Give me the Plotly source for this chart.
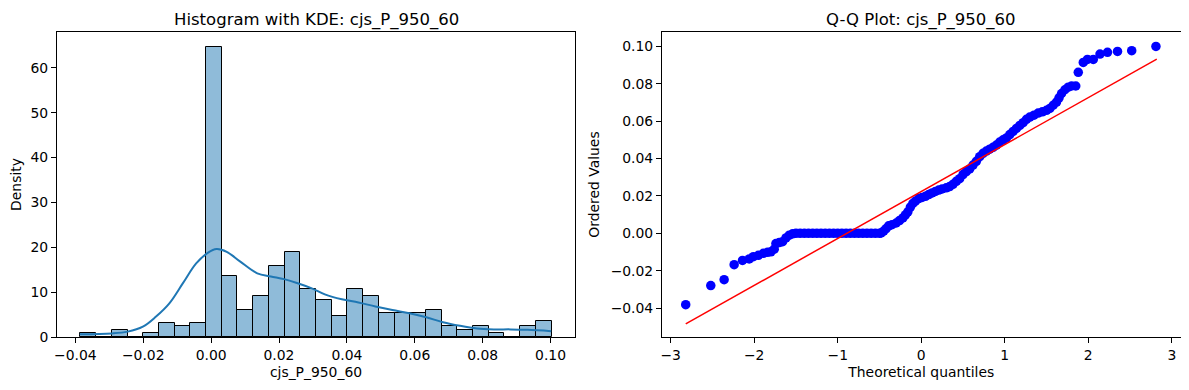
import plotly.graph_objects as go

# ---------------- data ----------------
hist_min = -0.0385
hist_max = 0.1003
n_bins = 30
hist_density = [0.82, 0.0, 1.56, 0.0, 0.82, 3.05, 2.38, 3.05, 64.6, 13.5,
                5.95, 9.07, 15.76, 18.9, 10.6, 8.18, 4.68, 10.6, 9.07, 5.28,
                5.28, 5.28, 5.95, 2.38, 1.49, 2.38, 0.82, 0.0, 2.38, 3.64]

kde_x = [-0.0387, -0.0292, -0.0246, -0.0201, -0.0163, -0.0123, -0.0083, -0.0044,
         -0.0009, 0.0016, 0.0046, 0.0086, 0.0136, 0.0176, 0.0215, 0.0255, 0.0295,
         0.0335, 0.0385, 0.0434, 0.0484, 0.0534, 0.0584, 0.0634, 0.0683, 0.0733,
         0.0783, 0.0833, 0.0882, 0.0932, 0.1002]
kde_y = [0.6, 0.8, 1.2, 2.3, 4.5, 7.5, 12.0, 16.4, 18.8, 19.6, 19.0, 16.8, 14.2,
         13.5, 12.9, 12.0, 10.9, 9.5, 8.4, 7.7, 6.8, 6.0, 5.3, 4.4, 3.3, 2.5,
         1.9, 1.7, 1.7, 1.6, 1.3]

qq_theoretical = [
    -2.82, -2.52, -2.36, -2.24, -2.14, -2.06, -2.01, -1.95, -1.89, -1.84, -1.80,
    -1.76, -1.74, -1.70, -1.66, -1.62, -1.58, -1.54, -1.50,
    -1.45, -1.40, -1.35, -1.30, -1.25, -1.20, -1.15, -1.10, -1.05, -1.00,
    -0.95, -0.90, -0.85, -0.80, -0.75, -0.70, -0.65, -0.60, -0.55, -0.50,
    -0.48, -0.45, -0.42, -0.39, -0.35, -0.30, -0.26, -0.22, -0.19, -0.16,
    -0.13, -0.10, -0.07, -0.03, 0.01, 0.05, 0.09, 0.13, 0.17, 0.21, 0.25,
    0.30, 0.34, 0.38, 0.42, 0.46, 0.50, 0.54, 0.58, 0.62, 0.66, 0.70, 0.74,
    0.78, 0.82, 0.86, 0.90, 0.94, 0.98, 1.02, 1.06, 1.10, 1.14, 1.18, 1.22,
    1.26, 1.30, 1.35, 1.40, 1.45, 1.50, 1.54, 1.58, 1.62, 1.65, 1.68, 1.72,
    1.76, 1.80, 1.85, 1.88, 1.94, 1.99, 2.06, 2.14, 2.23, 2.35, 2.52, 2.81]
qq_ordered = [
    -0.0382, -0.0280, -0.0248, -0.0168, -0.0145, -0.0137, -0.0125, -0.0118,
    -0.0107, -0.0102, -0.0099, -0.0085, -0.0055, -0.0050, -0.0045, -0.0025,
    -0.0010, -0.0003, 0.0,
    0.0, 0.0, 0.0, 0.0, 0.0, 0.0, 0.0, 0.0, 0.0, 0.0,
    0.0, 0.0, 0.0, 0.0, 0.0, 0.0, 0.0, 0.0, 0.0, 0.0,
    0.0002, 0.0012, 0.0025, 0.0040, 0.0046, 0.0055, 0.0068, 0.0082, 0.0098,
    0.0115, 0.0140, 0.0160, 0.0172, 0.0186, 0.0192, 0.0198, 0.0207, 0.0216,
    0.0224, 0.0231, 0.0237, 0.0243, 0.0250, 0.0262, 0.0278, 0.0292, 0.0314,
    0.0330, 0.0344, 0.0365, 0.0385, 0.0410, 0.0428, 0.0440, 0.0450, 0.0460,
    0.0472, 0.0488, 0.0500, 0.0510, 0.0528, 0.0545, 0.0561, 0.0577, 0.0592,
    0.0610, 0.0622, 0.0632, 0.0643, 0.0650, 0.0658, 0.0668, 0.0685, 0.0702,
    0.0725, 0.0748, 0.0768, 0.0782, 0.0788, 0.0788, 0.0861, 0.0914, 0.0930,
    0.0930, 0.0959, 0.0968, 0.0973, 0.0977, 0.1000]

fit_x = [-2.82, 2.82]
fit_y = [-0.0485, 0.0932]

left_xticks = [-0.04, -0.02, 0.00, 0.02, 0.04, 0.06, 0.08, 0.10]
left_yticks = [0, 10, 20, 30, 40, 50, 60]
right_xticks = [-3, -2, -1, 0, 1, 2, 3]
right_yticks = [-0.04, -0.02, 0.00, 0.02, 0.04, 0.06, 0.08, 0.10]

var_name = "cjs_P_950_60"

# ---------------- figure ----------------
# The page body has an 8px margin; size the figure so the page fits the window.
OFF = 8
W, H = 1189 - 2 * OFF, 390 - 2 * OFF
bin_w = (hist_max - hist_min) / n_bins
bin_centers = [hist_min + (i + 0.5) * bin_w for i in range(n_bins)]

fig = go.Figure()
fig.add_trace(go.Bar(
    x=bin_centers, y=hist_density, width=bin_w,
    marker=dict(color="rgba(31,119,180,0.5)", line=dict(color="black", width=1)),
    xaxis="x", yaxis="y", showlegend=False))
fig.add_trace(go.Scatter(
    x=kde_x, y=kde_y, mode="lines", line=dict(color="#1f77b4", width=2, shape="spline"),
    xaxis="x", yaxis="y", showlegend=False))
fig.add_trace(go.Scatter(
    x=qq_theoretical, y=qq_ordered, mode="markers",
    marker=dict(color="blue", size=9.5, line=dict(width=0)),
    xaxis="x2", yaxis="y2", showlegend=False))
fig.add_trace(go.Scatter(
    x=fit_x, y=fit_y, mode="lines", line=dict(color="red", width=1.5),
    xaxis="x2", yaxis="y2", showlegend=False))

def px_x(p):
    return (p - OFF) / W

def px_y(p):
    return 1 - (p - OFF) / H

font = dict(family="DejaVu Sans", size=13.9, color="black")
axis_common = dict(showline=True, mirror=True, linecolor="black", linewidth=1,
                   ticks="outside", ticklen=5, tickcolor="black", tickwidth=1,
                   showgrid=False, zeroline=False, tickfont=font,
                   title_font=font, automargin=False)

# axes box edges in window pixels (from the reference)
L1, R1, L2, R2, T, B = 57, 575, 662, 1180.5, 32, 337
TITLE_Y = 20

title_font = dict(family="DejaVu Sans", size=16.5, color="black")

fig.update_layout(
    width=W, height=H, margin=dict(l=0, r=0, t=0, b=0),
    plot_bgcolor="white", paper_bgcolor="white", bargap=0,
    font=font,
    xaxis=dict(domain=[px_x(L1), px_x(R1)], range=[-0.0454, 0.1072],
               tickvals=left_xticks, tickformat=".2f", anchor="y",
               title=dict(text=var_name, standoff=5), **axis_common),
    yaxis=dict(domain=[px_y(B), px_y(T)], range=[0, 68], tickvals=left_yticks,
               anchor="x", title=dict(text="Density", standoff=7), **axis_common),
    xaxis2=dict(domain=[px_x(L2), px_x(R2)], range=[-3.104, 3.104],
                tickvals=right_xticks, anchor="y2",
                title=dict(text="Theoretical quantiles", standoff=5), **axis_common),
    yaxis2=dict(domain=[px_y(B), px_y(T)], range=[-0.0555, 0.1077],
                tickvals=right_yticks, tickformat=".2f", anchor="x2",
                title=dict(text="Ordered Values", standoff=7), **axis_common),
    annotations=[
        dict(text="Histogram with KDE: " + var_name, x=(px_x(L1) + px_x(R1)) / 2,
             y=px_y(TITLE_Y), xref="paper", yref="paper", xanchor="center",
             yanchor="middle", showarrow=False, font=title_font, borderpad=0),
        dict(text="Q-Q Plot: " + var_name, x=(px_x(L2) + px_x(R2)) / 2,
             y=px_y(TITLE_Y), xref="paper", yref="paper", xanchor="center",
             yanchor="middle", showarrow=False, font=title_font, borderpad=0),
    ],
)

fig.write_html("out.html")
